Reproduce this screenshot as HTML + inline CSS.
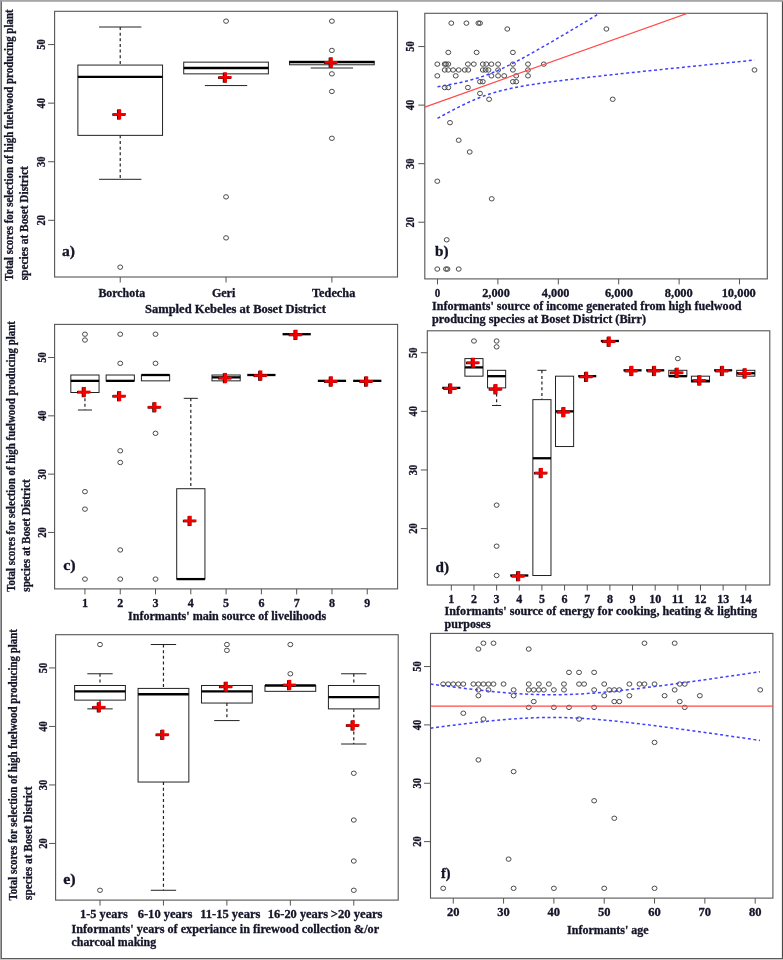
<!DOCTYPE html>
<html><head><meta charset="utf-8"><title>Figure</title>
<style>html,body{margin:0;padding:0;background:#fff;}body{width:783px;height:960px;overflow:hidden;}svg{display:block;filter:blur(0.3px);}
text{font-family:"Liberation Serif",serif;font-weight:bold;stroke:#141428;stroke-width:0.3px;}</style></head>
<body>
<svg width="783" height="960" viewBox="0 0 783 960" font-family="Liberation Serif, serif" font-weight="bold" fill="#141428">
<rect x="0" y="0" width="783" height="960" fill="#fff"/>
<g>
<rect x="54.60" y="11.30" width="342.90" height="265.70" fill="none" stroke="#555" stroke-width="1.1"/>
<line x1="48.10" y1="220.30" x2="54.60" y2="220.30" stroke="#555" stroke-width="1.0" />
<text transform="translate(44.80,220.30) rotate(-90)" x="0" y="0" font-size="12" text-anchor="middle" textLength="10.50" lengthAdjust="spacingAndGlyphs">20</text>
<line x1="48.10" y1="161.72" x2="54.60" y2="161.72" stroke="#555" stroke-width="1.0" />
<text transform="translate(44.80,161.72) rotate(-90)" x="0" y="0" font-size="12" text-anchor="middle" textLength="10.50" lengthAdjust="spacingAndGlyphs">30</text>
<line x1="48.10" y1="103.15" x2="54.60" y2="103.15" stroke="#555" stroke-width="1.0" />
<text transform="translate(44.80,103.15) rotate(-90)" x="0" y="0" font-size="12" text-anchor="middle" textLength="10.50" lengthAdjust="spacingAndGlyphs">40</text>
<line x1="48.10" y1="44.57" x2="54.60" y2="44.57" stroke="#555" stroke-width="1.0" />
<text transform="translate(44.80,44.57) rotate(-90)" x="0" y="0" font-size="12" text-anchor="middle" textLength="10.50" lengthAdjust="spacingAndGlyphs">50</text>
<line x1="120.22" y1="277.00" x2="120.22" y2="282.50" stroke="#555" stroke-width="1.0" />
<line x1="226.05" y1="277.00" x2="226.05" y2="282.50" stroke="#555" stroke-width="1.0" />
<line x1="331.88" y1="277.00" x2="331.88" y2="282.50" stroke="#555" stroke-width="1.0" />
<line x1="120.22" y1="27.00" x2="120.22" y2="65.07" stroke="#222" stroke-width="1.2" stroke-dasharray="3 2.65"/>
<line x1="99.05" y1="27.00" x2="141.38" y2="27.00" stroke="#222" stroke-width="1.0" />
<line x1="120.22" y1="135.36" x2="120.22" y2="179.30" stroke="#222" stroke-width="1.2" stroke-dasharray="3 2.65"/>
<line x1="99.05" y1="179.30" x2="141.38" y2="179.30" stroke="#222" stroke-width="1.0" />
<rect x="77.88" y="65.07" width="84.67" height="70.29" fill="white" stroke="#222" stroke-width="1.0"/>
<line x1="77.88" y1="76.79" x2="162.55" y2="76.79" stroke="#000" stroke-width="2.3" />
<ellipse cx="120.22" cy="267.16" rx="2.45" ry="2.2" fill="none" stroke="#4a4a4a" stroke-width="1.0"/>
<g transform="translate(-0.7,0.3)" fill="#2a0000"><rect x="112.97" y="113.03" width="12.9" height="2.5"/><rect x="117.67" y="109.28" width="3.5" height="10.0"/></g>
<g fill="#f20000"><rect x="112.97" y="113.03" width="12.9" height="2.5"/><rect x="117.67" y="109.28" width="3.5" height="10.0"/></g>
<line x1="226.05" y1="73.86" x2="226.05" y2="85.57" stroke="#222" stroke-width="1.2" stroke-dasharray="3 2.65"/>
<line x1="204.88" y1="85.57" x2="247.22" y2="85.57" stroke="#222" stroke-width="1.0" />
<rect x="183.72" y="62.14" width="84.67" height="11.72" fill="white" stroke="#222" stroke-width="1.0"/>
<line x1="183.72" y1="68.00" x2="268.38" y2="68.00" stroke="#000" stroke-width="2.3" />
<ellipse cx="226.05" cy="21.14" rx="2.45" ry="2.2" fill="none" stroke="#4a4a4a" stroke-width="1.0"/>
<ellipse cx="226.05" cy="196.87" rx="2.45" ry="2.2" fill="none" stroke="#4a4a4a" stroke-width="1.0"/>
<ellipse cx="226.05" cy="237.87" rx="2.45" ry="2.2" fill="none" stroke="#4a4a4a" stroke-width="1.0"/>
<g transform="translate(-0.7,0.3)" fill="#2a0000"><rect x="218.80" y="76.12" width="12.9" height="2.5"/><rect x="223.50" y="72.37" width="3.5" height="10.0"/></g>
<g fill="#f20000"><rect x="218.80" y="76.12" width="12.9" height="2.5"/><rect x="223.50" y="72.37" width="3.5" height="10.0"/></g>
<line x1="331.88" y1="64.78" x2="331.88" y2="68.00" stroke="#222" stroke-width="1.2" stroke-dasharray="3 2.65"/>
<line x1="310.72" y1="68.00" x2="353.05" y2="68.00" stroke="#222" stroke-width="1.0" />
<rect x="289.55" y="61.27" width="84.67" height="3.51" fill="white" stroke="#222" stroke-width="1.0"/>
<line x1="289.55" y1="62.14" x2="374.22" y2="62.14" stroke="#000" stroke-width="2.3" />
<ellipse cx="331.88" cy="21.14" rx="2.45" ry="2.2" fill="none" stroke="#4a4a4a" stroke-width="1.0"/>
<ellipse cx="331.88" cy="50.43" rx="2.45" ry="2.2" fill="none" stroke="#4a4a4a" stroke-width="1.0"/>
<ellipse cx="331.88" cy="73.86" rx="2.45" ry="2.2" fill="none" stroke="#4a4a4a" stroke-width="1.0"/>
<ellipse cx="331.88" cy="91.43" rx="2.45" ry="2.2" fill="none" stroke="#4a4a4a" stroke-width="1.0"/>
<ellipse cx="331.88" cy="138.29" rx="2.45" ry="2.2" fill="none" stroke="#4a4a4a" stroke-width="1.0"/>
<g transform="translate(-0.7,0.3)" fill="#2a0000"><rect x="324.63" y="61.07" width="12.9" height="2.5"/><rect x="329.33" y="57.32" width="3.5" height="10.0"/></g>
<g fill="#f20000"><rect x="324.63" y="61.07" width="12.9" height="2.5"/><rect x="329.33" y="57.32" width="3.5" height="10.0"/></g>
<text x="98.40" y="297.20" font-size="12" text-anchor="start" textLength="46.70" lengthAdjust="spacingAndGlyphs">Borchota</text>
<text x="211.90" y="297.20" font-size="12" text-anchor="start" textLength="23.40" lengthAdjust="spacingAndGlyphs">Geri</text>
<text x="312.00" y="297.20" font-size="12" text-anchor="start" textLength="43.30" lengthAdjust="spacingAndGlyphs">Tedecha</text>
<text x="145.00" y="313.00" font-size="12" text-anchor="start" textLength="180.80" lengthAdjust="spacingAndGlyphs">Sampled Kebeles at Boset District</text>
<text transform="translate(13.30,280.80) rotate(-90)" x="0" y="0" font-size="12" text-anchor="start" textLength="271.40" lengthAdjust="spacingAndGlyphs">Total scores for selection of high fuelwood producing plant</text>
<text transform="translate(27.90,280.30) rotate(-90)" x="0" y="0" font-size="12" text-anchor="start" textLength="114.10" lengthAdjust="spacingAndGlyphs">species at Boset District</text>
<text x="62.00" y="255.60" font-size="14" text-anchor="start" textLength="13.00" lengthAdjust="spacingAndGlyphs">a)</text>
</g>
<g>
<rect x="424.80" y="13.30" width="342.50" height="265.60" fill="none" stroke="#555" stroke-width="1.1"/>
<line x1="418.30" y1="222.22" x2="424.80" y2="222.22" stroke="#555" stroke-width="1.0" />
<text transform="translate(414.00,222.22) rotate(-90)" x="0" y="0" font-size="12" text-anchor="middle" textLength="10.50" lengthAdjust="spacingAndGlyphs">20</text>
<line x1="418.30" y1="163.67" x2="424.80" y2="163.67" stroke="#555" stroke-width="1.0" />
<text transform="translate(414.00,163.67) rotate(-90)" x="0" y="0" font-size="12" text-anchor="middle" textLength="10.50" lengthAdjust="spacingAndGlyphs">30</text>
<line x1="418.30" y1="105.11" x2="424.80" y2="105.11" stroke="#555" stroke-width="1.0" />
<text transform="translate(414.00,105.11) rotate(-90)" x="0" y="0" font-size="12" text-anchor="middle" textLength="10.50" lengthAdjust="spacingAndGlyphs">40</text>
<line x1="418.30" y1="46.56" x2="424.80" y2="46.56" stroke="#555" stroke-width="1.0" />
<text transform="translate(414.00,46.56) rotate(-90)" x="0" y="0" font-size="12" text-anchor="middle" textLength="10.50" lengthAdjust="spacingAndGlyphs">50</text>
<line x1="437.49" y1="278.90" x2="437.49" y2="284.40" stroke="#555" stroke-width="1.0" />
<line x1="497.89" y1="278.90" x2="497.89" y2="284.40" stroke="#555" stroke-width="1.0" />
<line x1="558.30" y1="278.90" x2="558.30" y2="284.40" stroke="#555" stroke-width="1.0" />
<line x1="618.70" y1="278.90" x2="618.70" y2="284.40" stroke="#555" stroke-width="1.0" />
<line x1="679.11" y1="278.90" x2="679.11" y2="284.40" stroke="#555" stroke-width="1.0" />
<line x1="739.51" y1="278.90" x2="739.51" y2="284.40" stroke="#555" stroke-width="1.0" />
<text x="437.60" y="296.90" font-size="12" text-anchor="middle" textLength="5.50" lengthAdjust="spacingAndGlyphs">0</text>
<text x="496.00" y="296.90" font-size="12" text-anchor="middle" textLength="27.60" lengthAdjust="spacingAndGlyphs">2,000</text>
<text x="555.60" y="296.90" font-size="12" text-anchor="middle" textLength="27.60" lengthAdjust="spacingAndGlyphs">4,000</text>
<text x="618.90" y="296.90" font-size="12" text-anchor="middle" textLength="28.00" lengthAdjust="spacingAndGlyphs">6,000</text>
<text x="678.80" y="296.90" font-size="12" text-anchor="middle" textLength="28.00" lengthAdjust="spacingAndGlyphs">8,000</text>
<text x="738.75" y="296.90" font-size="12" text-anchor="middle" textLength="34.20" lengthAdjust="spacingAndGlyphs">10,000</text>
<text x="432.00" y="310.40" font-size="12" text-anchor="start" textLength="309.40" lengthAdjust="spacingAndGlyphs">Informants' source of income generated from high fuelwood</text>
<text x="432.00" y="323.30" font-size="12" text-anchor="start" textLength="214.00" lengthAdjust="spacingAndGlyphs">producing species at Boset District (Birr)</text>
<text x="435.00" y="256.00" font-size="14" text-anchor="start" textLength="13.50" lengthAdjust="spacingAndGlyphs">b)</text>
<ellipse cx="451.30" cy="23.14" rx="2.45" ry="2.2" fill="none" stroke="#4a4a4a" stroke-width="1.0"/>
<ellipse cx="466.40" cy="23.14" rx="2.45" ry="2.2" fill="none" stroke="#4a4a4a" stroke-width="1.0"/>
<ellipse cx="478.40" cy="23.14" rx="2.45" ry="2.2" fill="none" stroke="#4a4a4a" stroke-width="1.0"/>
<ellipse cx="480.00" cy="23.14" rx="2.45" ry="2.2" fill="none" stroke="#4a4a4a" stroke-width="1.0"/>
<ellipse cx="507.30" cy="28.99" rx="2.45" ry="2.2" fill="none" stroke="#4a4a4a" stroke-width="1.0"/>
<ellipse cx="606.40" cy="28.99" rx="2.45" ry="2.2" fill="none" stroke="#4a4a4a" stroke-width="1.0"/>
<ellipse cx="448.30" cy="52.41" rx="2.45" ry="2.2" fill="none" stroke="#4a4a4a" stroke-width="1.0"/>
<ellipse cx="476.60" cy="52.41" rx="2.45" ry="2.2" fill="none" stroke="#4a4a4a" stroke-width="1.0"/>
<ellipse cx="512.90" cy="52.41" rx="2.45" ry="2.2" fill="none" stroke="#4a4a4a" stroke-width="1.0"/>
<ellipse cx="437.30" cy="64.12" rx="2.45" ry="2.2" fill="none" stroke="#4a4a4a" stroke-width="1.0"/>
<ellipse cx="444.70" cy="64.12" rx="2.45" ry="2.2" fill="none" stroke="#4a4a4a" stroke-width="1.0"/>
<ellipse cx="446.00" cy="64.12" rx="2.45" ry="2.2" fill="none" stroke="#4a4a4a" stroke-width="1.0"/>
<ellipse cx="448.30" cy="64.12" rx="2.45" ry="2.2" fill="none" stroke="#4a4a4a" stroke-width="1.0"/>
<ellipse cx="467.90" cy="64.12" rx="2.45" ry="2.2" fill="none" stroke="#4a4a4a" stroke-width="1.0"/>
<ellipse cx="473.80" cy="64.12" rx="2.45" ry="2.2" fill="none" stroke="#4a4a4a" stroke-width="1.0"/>
<ellipse cx="482.80" cy="64.12" rx="2.45" ry="2.2" fill="none" stroke="#4a4a4a" stroke-width="1.0"/>
<ellipse cx="486.30" cy="64.12" rx="2.45" ry="2.2" fill="none" stroke="#4a4a4a" stroke-width="1.0"/>
<ellipse cx="491.40" cy="64.12" rx="2.45" ry="2.2" fill="none" stroke="#4a4a4a" stroke-width="1.0"/>
<ellipse cx="498.10" cy="64.12" rx="2.45" ry="2.2" fill="none" stroke="#4a4a4a" stroke-width="1.0"/>
<ellipse cx="512.90" cy="64.12" rx="2.45" ry="2.2" fill="none" stroke="#4a4a4a" stroke-width="1.0"/>
<ellipse cx="528.00" cy="64.12" rx="2.45" ry="2.2" fill="none" stroke="#4a4a4a" stroke-width="1.0"/>
<ellipse cx="543.80" cy="64.12" rx="2.45" ry="2.2" fill="none" stroke="#4a4a4a" stroke-width="1.0"/>
<ellipse cx="444.70" cy="69.98" rx="2.45" ry="2.2" fill="none" stroke="#4a4a4a" stroke-width="1.0"/>
<ellipse cx="448.30" cy="69.98" rx="2.45" ry="2.2" fill="none" stroke="#4a4a4a" stroke-width="1.0"/>
<ellipse cx="453.10" cy="69.98" rx="2.45" ry="2.2" fill="none" stroke="#4a4a4a" stroke-width="1.0"/>
<ellipse cx="458.70" cy="69.98" rx="2.45" ry="2.2" fill="none" stroke="#4a4a4a" stroke-width="1.0"/>
<ellipse cx="464.70" cy="69.98" rx="2.45" ry="2.2" fill="none" stroke="#4a4a4a" stroke-width="1.0"/>
<ellipse cx="468.30" cy="69.98" rx="2.45" ry="2.2" fill="none" stroke="#4a4a4a" stroke-width="1.0"/>
<ellipse cx="482.80" cy="69.98" rx="2.45" ry="2.2" fill="none" stroke="#4a4a4a" stroke-width="1.0"/>
<ellipse cx="485.60" cy="69.98" rx="2.45" ry="2.2" fill="none" stroke="#4a4a4a" stroke-width="1.0"/>
<ellipse cx="488.50" cy="69.98" rx="2.45" ry="2.2" fill="none" stroke="#4a4a4a" stroke-width="1.0"/>
<ellipse cx="498.10" cy="69.98" rx="2.45" ry="2.2" fill="none" stroke="#4a4a4a" stroke-width="1.0"/>
<ellipse cx="512.90" cy="69.98" rx="2.45" ry="2.2" fill="none" stroke="#4a4a4a" stroke-width="1.0"/>
<ellipse cx="528.00" cy="69.98" rx="2.45" ry="2.2" fill="none" stroke="#4a4a4a" stroke-width="1.0"/>
<ellipse cx="754.50" cy="69.98" rx="2.45" ry="2.2" fill="none" stroke="#4a4a4a" stroke-width="1.0"/>
<ellipse cx="437.30" cy="75.84" rx="2.45" ry="2.2" fill="none" stroke="#4a4a4a" stroke-width="1.0"/>
<ellipse cx="455.70" cy="75.84" rx="2.45" ry="2.2" fill="none" stroke="#4a4a4a" stroke-width="1.0"/>
<ellipse cx="491.40" cy="75.84" rx="2.45" ry="2.2" fill="none" stroke="#4a4a4a" stroke-width="1.0"/>
<ellipse cx="498.10" cy="75.84" rx="2.45" ry="2.2" fill="none" stroke="#4a4a4a" stroke-width="1.0"/>
<ellipse cx="504.20" cy="75.84" rx="2.45" ry="2.2" fill="none" stroke="#4a4a4a" stroke-width="1.0"/>
<ellipse cx="516.20" cy="75.84" rx="2.45" ry="2.2" fill="none" stroke="#4a4a4a" stroke-width="1.0"/>
<ellipse cx="528.00" cy="75.84" rx="2.45" ry="2.2" fill="none" stroke="#4a4a4a" stroke-width="1.0"/>
<ellipse cx="480.00" cy="81.69" rx="2.45" ry="2.2" fill="none" stroke="#4a4a4a" stroke-width="1.0"/>
<ellipse cx="482.80" cy="81.69" rx="2.45" ry="2.2" fill="none" stroke="#4a4a4a" stroke-width="1.0"/>
<ellipse cx="512.90" cy="81.69" rx="2.45" ry="2.2" fill="none" stroke="#4a4a4a" stroke-width="1.0"/>
<ellipse cx="516.20" cy="81.69" rx="2.45" ry="2.2" fill="none" stroke="#4a4a4a" stroke-width="1.0"/>
<ellipse cx="444.70" cy="87.55" rx="2.45" ry="2.2" fill="none" stroke="#4a4a4a" stroke-width="1.0"/>
<ellipse cx="448.30" cy="87.55" rx="2.45" ry="2.2" fill="none" stroke="#4a4a4a" stroke-width="1.0"/>
<ellipse cx="467.90" cy="87.55" rx="2.45" ry="2.2" fill="none" stroke="#4a4a4a" stroke-width="1.0"/>
<ellipse cx="480.00" cy="93.40" rx="2.45" ry="2.2" fill="none" stroke="#4a4a4a" stroke-width="1.0"/>
<ellipse cx="489.10" cy="99.26" rx="2.45" ry="2.2" fill="none" stroke="#4a4a4a" stroke-width="1.0"/>
<ellipse cx="612.70" cy="99.26" rx="2.45" ry="2.2" fill="none" stroke="#4a4a4a" stroke-width="1.0"/>
<ellipse cx="450.00" cy="122.68" rx="2.45" ry="2.2" fill="none" stroke="#4a4a4a" stroke-width="1.0"/>
<ellipse cx="458.70" cy="140.24" rx="2.45" ry="2.2" fill="none" stroke="#4a4a4a" stroke-width="1.0"/>
<ellipse cx="469.70" cy="151.96" rx="2.45" ry="2.2" fill="none" stroke="#4a4a4a" stroke-width="1.0"/>
<ellipse cx="437.30" cy="181.23" rx="2.45" ry="2.2" fill="none" stroke="#4a4a4a" stroke-width="1.0"/>
<ellipse cx="491.70" cy="198.80" rx="2.45" ry="2.2" fill="none" stroke="#4a4a4a" stroke-width="1.0"/>
<ellipse cx="446.70" cy="239.79" rx="2.45" ry="2.2" fill="none" stroke="#4a4a4a" stroke-width="1.0"/>
<ellipse cx="437.30" cy="269.06" rx="2.45" ry="2.2" fill="none" stroke="#4a4a4a" stroke-width="1.0"/>
<ellipse cx="446.00" cy="269.06" rx="2.45" ry="2.2" fill="none" stroke="#4a4a4a" stroke-width="1.0"/>
<ellipse cx="447.50" cy="269.06" rx="2.45" ry="2.2" fill="none" stroke="#4a4a4a" stroke-width="1.0"/>
<ellipse cx="458.70" cy="269.06" rx="2.45" ry="2.2" fill="none" stroke="#4a4a4a" stroke-width="1.0"/>
<clipPath id="cb"><rect x="424.8" y="13.3" width="342.5" height="265.6"/></clipPath>
<g clip-path="url(#cb)">
<line x1="424.80" y1="107.07" x2="767.30" y2="-15.20" stroke="#ff4a4a" stroke-width="1.2" />
<path d="M437.50,86.66 L442.78,85.81 L448.07,84.91 L453.35,83.93 L458.63,82.87 L463.92,81.71 L469.20,80.41 L474.48,78.97 L479.77,77.36 L485.05,75.56 L490.33,73.58 L495.62,71.42 L500.90,69.08 L506.18,66.60 L511.47,64.00 L516.75,61.28 L522.03,58.48 L527.32,55.61 L532.60,52.69 L537.88,49.71 L543.17,46.70 L548.45,43.65 L553.73,40.58 L559.02,37.49 L564.30,34.38 L569.58,31.25 L574.87,28.11 L580.15,24.95 L585.43,21.79 L590.72,18.62 L596.00,15.44 L601.28,12.25 L606.57,9.06 L611.85,5.87 L617.13,2.66 L622.42,-0.54 L627.70,-3.75 L632.98,-6.96 L638.27,-10.18 L643.55,-13.40 L648.83,-16.62 L654.12,-19.84 L659.40,-23.07 L664.68,-26.29 L669.97,-29.52 L675.25,-32.75 L680.53,-35.98 L685.82,-39.22 L691.10,-42.45 L696.38,-45.69 L701.67,-48.92 L706.95,-52.16 L712.23,-55.40 L717.52,-58.64 L722.80,-61.88 L728.08,-65.12 L733.37,-68.36 L738.65,-71.60 L743.93,-74.85 L749.22,-78.09 L754.50,-81.33" fill="none" stroke="#4040ff" stroke-width="1.5" stroke-dasharray="3 2.6"/>
<path d="M437.50,118.42 L442.78,115.49 L448.07,112.62 L453.35,109.82 L458.63,107.11 L463.92,104.51 L469.20,102.03 L474.48,99.70 L479.77,97.54 L485.05,95.56 L490.33,93.77 L495.62,92.16 L500.90,90.72 L506.18,89.43 L511.47,88.27 L516.75,87.21 L522.03,86.23 L527.32,85.33 L532.60,84.49 L537.88,83.69 L543.17,82.93 L548.45,82.20 L553.73,81.50 L559.02,80.82 L564.30,80.16 L569.58,79.52 L574.87,78.89 L580.15,78.27 L585.43,77.66 L590.72,77.06 L596.00,76.47 L601.28,75.88 L606.57,75.30 L611.85,74.72 L617.13,74.15 L622.42,73.59 L627.70,73.02 L632.98,72.46 L638.27,71.91 L643.55,71.35 L648.83,70.80 L654.12,70.25 L659.40,69.70 L664.68,69.16 L669.97,68.61 L675.25,68.07 L680.53,67.53 L685.82,66.99 L691.10,66.45 L696.38,65.92 L701.67,65.38 L706.95,64.85 L712.23,64.31 L717.52,63.78 L722.80,63.25 L728.08,62.72 L733.37,62.19 L738.65,61.66 L743.93,61.13 L749.22,60.60 L754.50,60.07" fill="none" stroke="#4040ff" stroke-width="1.5" stroke-dasharray="3 2.6"/>
</g>
</g>
<g>
<rect x="54.60" y="324.40" width="343.00" height="264.50" fill="none" stroke="#555" stroke-width="1.1"/>
<line x1="48.10" y1="532.45" x2="54.60" y2="532.45" stroke="#555" stroke-width="1.0" />
<text transform="translate(45.50,532.45) rotate(-90)" x="0" y="0" font-size="12" text-anchor="middle" textLength="10.50" lengthAdjust="spacingAndGlyphs">20</text>
<line x1="48.10" y1="474.14" x2="54.60" y2="474.14" stroke="#555" stroke-width="1.0" />
<text transform="translate(45.50,474.14) rotate(-90)" x="0" y="0" font-size="12" text-anchor="middle" textLength="10.50" lengthAdjust="spacingAndGlyphs">30</text>
<line x1="48.10" y1="415.83" x2="54.60" y2="415.83" stroke="#555" stroke-width="1.0" />
<text transform="translate(45.50,415.83) rotate(-90)" x="0" y="0" font-size="12" text-anchor="middle" textLength="10.50" lengthAdjust="spacingAndGlyphs">40</text>
<line x1="48.10" y1="357.52" x2="54.60" y2="357.52" stroke="#555" stroke-width="1.0" />
<text transform="translate(45.50,357.52) rotate(-90)" x="0" y="0" font-size="12" text-anchor="middle" textLength="10.50" lengthAdjust="spacingAndGlyphs">50</text>
<line x1="84.95" y1="588.90" x2="84.95" y2="594.40" stroke="#555" stroke-width="1.0" />
<line x1="120.24" y1="588.90" x2="120.24" y2="594.40" stroke="#555" stroke-width="1.0" />
<line x1="155.52" y1="588.90" x2="155.52" y2="594.40" stroke="#555" stroke-width="1.0" />
<line x1="190.81" y1="588.90" x2="190.81" y2="594.40" stroke="#555" stroke-width="1.0" />
<line x1="226.10" y1="588.90" x2="226.10" y2="594.40" stroke="#555" stroke-width="1.0" />
<line x1="261.39" y1="588.90" x2="261.39" y2="594.40" stroke="#555" stroke-width="1.0" />
<line x1="296.68" y1="588.90" x2="296.68" y2="594.40" stroke="#555" stroke-width="1.0" />
<line x1="331.96" y1="588.90" x2="331.96" y2="594.40" stroke="#555" stroke-width="1.0" />
<line x1="367.25" y1="588.90" x2="367.25" y2="594.40" stroke="#555" stroke-width="1.0" />
<line x1="84.95" y1="392.51" x2="84.95" y2="410.00" stroke="#222" stroke-width="1.2" stroke-dasharray="3 2.65"/>
<line x1="77.89" y1="410.00" x2="92.01" y2="410.00" stroke="#222" stroke-width="1.0" />
<rect x="70.83" y="375.01" width="28.23" height="17.49" fill="white" stroke="#222" stroke-width="1.0"/>
<line x1="70.83" y1="380.85" x2="99.06" y2="380.85" stroke="#000" stroke-width="2.3" />
<ellipse cx="84.95" cy="334.20" rx="2.45" ry="2.2" fill="none" stroke="#4a4a4a" stroke-width="1.0"/>
<ellipse cx="84.95" cy="340.03" rx="2.45" ry="2.2" fill="none" stroke="#4a4a4a" stroke-width="1.0"/>
<ellipse cx="84.95" cy="491.64" rx="2.45" ry="2.2" fill="none" stroke="#4a4a4a" stroke-width="1.0"/>
<ellipse cx="84.95" cy="509.13" rx="2.45" ry="2.2" fill="none" stroke="#4a4a4a" stroke-width="1.0"/>
<ellipse cx="84.95" cy="579.10" rx="2.45" ry="2.2" fill="none" stroke="#4a4a4a" stroke-width="1.0"/>
<g transform="translate(-0.7,0.3)" fill="#2a0000"><rect x="77.70" y="390.67" width="12.9" height="2.5"/><rect x="82.40" y="386.92" width="3.5" height="10.0"/></g>
<g fill="#f20000"><rect x="77.70" y="390.67" width="12.9" height="2.5"/><rect x="82.40" y="386.92" width="3.5" height="10.0"/></g>
<rect x="106.12" y="375.01" width="28.23" height="5.83" fill="white" stroke="#222" stroke-width="1.0"/>
<line x1="106.12" y1="380.85" x2="134.35" y2="380.85" stroke="#000" stroke-width="2.3" />
<ellipse cx="120.24" cy="334.20" rx="2.45" ry="2.2" fill="none" stroke="#4a4a4a" stroke-width="1.0"/>
<ellipse cx="120.24" cy="363.35" rx="2.45" ry="2.2" fill="none" stroke="#4a4a4a" stroke-width="1.0"/>
<ellipse cx="120.24" cy="450.82" rx="2.45" ry="2.2" fill="none" stroke="#4a4a4a" stroke-width="1.0"/>
<ellipse cx="120.24" cy="462.48" rx="2.45" ry="2.2" fill="none" stroke="#4a4a4a" stroke-width="1.0"/>
<ellipse cx="120.24" cy="549.95" rx="2.45" ry="2.2" fill="none" stroke="#4a4a4a" stroke-width="1.0"/>
<ellipse cx="120.24" cy="579.10" rx="2.45" ry="2.2" fill="none" stroke="#4a4a4a" stroke-width="1.0"/>
<g transform="translate(-0.7,0.3)" fill="#2a0000"><rect x="112.99" y="394.76" width="12.9" height="2.5"/><rect x="117.69" y="391.01" width="3.5" height="10.0"/></g>
<g fill="#f20000"><rect x="112.99" y="394.76" width="12.9" height="2.5"/><rect x="117.69" y="391.01" width="3.5" height="10.0"/></g>
<rect x="141.41" y="375.01" width="28.23" height="5.83" fill="white" stroke="#222" stroke-width="1.0"/>
<line x1="141.41" y1="375.01" x2="169.64" y2="375.01" stroke="#000" stroke-width="2.3" />
<ellipse cx="155.52" cy="334.20" rx="2.45" ry="2.2" fill="none" stroke="#4a4a4a" stroke-width="1.0"/>
<ellipse cx="155.52" cy="363.35" rx="2.45" ry="2.2" fill="none" stroke="#4a4a4a" stroke-width="1.0"/>
<ellipse cx="155.52" cy="433.33" rx="2.45" ry="2.2" fill="none" stroke="#4a4a4a" stroke-width="1.0"/>
<ellipse cx="155.52" cy="579.10" rx="2.45" ry="2.2" fill="none" stroke="#4a4a4a" stroke-width="1.0"/>
<g transform="translate(-0.7,0.3)" fill="#2a0000"><rect x="148.27" y="405.84" width="12.9" height="2.5"/><rect x="152.97" y="402.09" width="3.5" height="10.0"/></g>
<g fill="#f20000"><rect x="148.27" y="405.84" width="12.9" height="2.5"/><rect x="152.97" y="402.09" width="3.5" height="10.0"/></g>
<line x1="190.81" y1="398.34" x2="190.81" y2="488.72" stroke="#222" stroke-width="1.2" stroke-dasharray="3 2.65"/>
<line x1="183.75" y1="398.34" x2="197.87" y2="398.34" stroke="#222" stroke-width="1.0" />
<rect x="176.70" y="488.72" width="28.23" height="90.38" fill="white" stroke="#222" stroke-width="1.0"/>
<line x1="176.70" y1="579.10" x2="204.93" y2="579.10" stroke="#000" stroke-width="2.3" />
<g transform="translate(-0.7,0.3)" fill="#2a0000"><rect x="183.56" y="519.54" width="12.9" height="2.5"/><rect x="188.26" y="515.79" width="3.5" height="10.0"/></g>
<g fill="#f20000"><rect x="183.56" y="519.54" width="12.9" height="2.5"/><rect x="188.26" y="515.79" width="3.5" height="10.0"/></g>
<rect x="211.98" y="375.01" width="28.23" height="5.83" fill="white" stroke="#222" stroke-width="1.0"/>
<line x1="211.98" y1="377.35" x2="240.22" y2="377.35" stroke="#000" stroke-width="2.3" />
<g transform="translate(-0.7,0.3)" fill="#2a0000"><rect x="218.85" y="376.68" width="12.9" height="2.5"/><rect x="223.55" y="372.93" width="3.5" height="10.0"/></g>
<g fill="#f20000"><rect x="218.85" y="376.68" width="12.9" height="2.5"/><rect x="223.55" y="372.93" width="3.5" height="10.0"/></g>
<line x1="247.27" y1="375.01" x2="275.50" y2="375.01" stroke="#000" stroke-width="2.3" />
<g transform="translate(-0.7,0.3)" fill="#2a0000"><rect x="254.14" y="374.26" width="12.9" height="2.5"/><rect x="258.84" y="370.51" width="3.5" height="10.0"/></g>
<g fill="#f20000"><rect x="254.14" y="374.26" width="12.9" height="2.5"/><rect x="258.84" y="370.51" width="3.5" height="10.0"/></g>
<line x1="282.56" y1="334.20" x2="310.79" y2="334.20" stroke="#000" stroke-width="2.3" />
<g transform="translate(-0.7,0.3)" fill="#2a0000"><rect x="289.43" y="333.45" width="12.9" height="2.5"/><rect x="294.13" y="329.70" width="3.5" height="10.0"/></g>
<g fill="#f20000"><rect x="289.43" y="333.45" width="12.9" height="2.5"/><rect x="294.13" y="329.70" width="3.5" height="10.0"/></g>
<line x1="317.85" y1="380.85" x2="346.08" y2="380.85" stroke="#000" stroke-width="2.3" />
<g transform="translate(-0.7,0.3)" fill="#2a0000"><rect x="324.71" y="380.10" width="12.9" height="2.5"/><rect x="329.41" y="376.35" width="3.5" height="10.0"/></g>
<g fill="#f20000"><rect x="324.71" y="380.10" width="12.9" height="2.5"/><rect x="329.41" y="376.35" width="3.5" height="10.0"/></g>
<line x1="353.14" y1="380.85" x2="381.37" y2="380.85" stroke="#000" stroke-width="2.3" />
<g transform="translate(-0.7,0.3)" fill="#2a0000"><rect x="360.00" y="380.10" width="12.9" height="2.5"/><rect x="364.70" y="376.35" width="3.5" height="10.0"/></g>
<g fill="#f20000"><rect x="360.00" y="380.10" width="12.9" height="2.5"/><rect x="364.70" y="376.35" width="3.5" height="10.0"/></g>
<text x="84.95" y="606.90" font-size="12" text-anchor="middle" textLength="6.00" lengthAdjust="spacingAndGlyphs">1</text>
<text x="120.24" y="606.90" font-size="12" text-anchor="middle" textLength="6.00" lengthAdjust="spacingAndGlyphs">2</text>
<text x="155.52" y="606.90" font-size="12" text-anchor="middle" textLength="6.00" lengthAdjust="spacingAndGlyphs">3</text>
<text x="190.81" y="606.90" font-size="12" text-anchor="middle" textLength="6.00" lengthAdjust="spacingAndGlyphs">4</text>
<text x="226.10" y="606.90" font-size="12" text-anchor="middle" textLength="6.00" lengthAdjust="spacingAndGlyphs">5</text>
<text x="261.39" y="606.90" font-size="12" text-anchor="middle" textLength="6.00" lengthAdjust="spacingAndGlyphs">6</text>
<text x="296.68" y="606.90" font-size="12" text-anchor="middle" textLength="6.00" lengthAdjust="spacingAndGlyphs">7</text>
<text x="331.96" y="606.90" font-size="12" text-anchor="middle" textLength="6.00" lengthAdjust="spacingAndGlyphs">8</text>
<text x="367.25" y="606.90" font-size="12" text-anchor="middle" textLength="6.00" lengthAdjust="spacingAndGlyphs">9</text>
<text x="128.00" y="619.80" font-size="12" text-anchor="start" textLength="198.20" lengthAdjust="spacingAndGlyphs">Informants' main source of livelihoods</text>
<text transform="translate(15.00,591.70) rotate(-90)" x="0" y="0" font-size="12" text-anchor="start" textLength="270.50" lengthAdjust="spacingAndGlyphs">Total scores for selection of high fuelwood producing plant</text>
<text transform="translate(29.70,591.70) rotate(-90)" x="0" y="0" font-size="12" text-anchor="start" textLength="112.50" lengthAdjust="spacingAndGlyphs">species at Boset District</text>
<text x="63.20" y="570.20" font-size="14" text-anchor="start" textLength="12.50" lengthAdjust="spacingAndGlyphs">c)</text>
</g>
<g>
<rect x="427.30" y="330.80" width="342.50" height="254.20" fill="none" stroke="#555" stroke-width="1.1"/>
<line x1="420.80" y1="528.60" x2="427.30" y2="528.60" stroke="#555" stroke-width="1.0" />
<text transform="translate(417.00,528.60) rotate(-90)" x="0" y="0" font-size="12" text-anchor="middle" textLength="10.50" lengthAdjust="spacingAndGlyphs">20</text>
<line x1="420.80" y1="469.98" x2="427.30" y2="469.98" stroke="#555" stroke-width="1.0" />
<text transform="translate(417.00,469.98) rotate(-90)" x="0" y="0" font-size="12" text-anchor="middle" textLength="10.50" lengthAdjust="spacingAndGlyphs">30</text>
<line x1="420.80" y1="411.35" x2="427.30" y2="411.35" stroke="#555" stroke-width="1.0" />
<text transform="translate(417.00,411.35) rotate(-90)" x="0" y="0" font-size="12" text-anchor="middle" textLength="10.50" lengthAdjust="spacingAndGlyphs">40</text>
<line x1="420.80" y1="352.73" x2="427.30" y2="352.73" stroke="#555" stroke-width="1.0" />
<text transform="translate(417.00,352.73) rotate(-90)" x="0" y="0" font-size="12" text-anchor="middle" textLength="10.50" lengthAdjust="spacingAndGlyphs">50</text>
<line x1="451.31" y1="585.00" x2="451.31" y2="590.50" stroke="#555" stroke-width="1.0" />
<line x1="473.96" y1="585.00" x2="473.96" y2="590.50" stroke="#555" stroke-width="1.0" />
<line x1="496.62" y1="585.00" x2="496.62" y2="590.50" stroke="#555" stroke-width="1.0" />
<line x1="519.27" y1="585.00" x2="519.27" y2="590.50" stroke="#555" stroke-width="1.0" />
<line x1="541.92" y1="585.00" x2="541.92" y2="590.50" stroke="#555" stroke-width="1.0" />
<line x1="564.57" y1="585.00" x2="564.57" y2="590.50" stroke="#555" stroke-width="1.0" />
<line x1="587.22" y1="585.00" x2="587.22" y2="590.50" stroke="#555" stroke-width="1.0" />
<line x1="609.88" y1="585.00" x2="609.88" y2="590.50" stroke="#555" stroke-width="1.0" />
<line x1="632.53" y1="585.00" x2="632.53" y2="590.50" stroke="#555" stroke-width="1.0" />
<line x1="655.18" y1="585.00" x2="655.18" y2="590.50" stroke="#555" stroke-width="1.0" />
<line x1="677.83" y1="585.00" x2="677.83" y2="590.50" stroke="#555" stroke-width="1.0" />
<line x1="700.48" y1="585.00" x2="700.48" y2="590.50" stroke="#555" stroke-width="1.0" />
<line x1="723.14" y1="585.00" x2="723.14" y2="590.50" stroke="#555" stroke-width="1.0" />
<line x1="745.79" y1="585.00" x2="745.79" y2="590.50" stroke="#555" stroke-width="1.0" />
<line x1="442.25" y1="387.90" x2="460.37" y2="387.90" stroke="#000" stroke-width="2.3" />
<g transform="translate(-0.7,0.3)" fill="#2a0000"><rect x="444.06" y="387.15" width="12.9" height="2.5"/><rect x="448.76" y="383.40" width="3.5" height="10.0"/></g>
<g fill="#f20000"><rect x="444.06" y="387.15" width="12.9" height="2.5"/><rect x="448.76" y="383.40" width="3.5" height="10.0"/></g>
<rect x="464.90" y="358.59" width="18.12" height="17.59" fill="white" stroke="#222" stroke-width="1.0"/>
<line x1="464.90" y1="367.38" x2="483.02" y2="367.38" stroke="#000" stroke-width="2.3" />
<ellipse cx="473.96" cy="341.00" rx="2.45" ry="2.2" fill="none" stroke="#4a4a4a" stroke-width="1.0"/>
<g transform="translate(-0.7,0.3)" fill="#2a0000"><rect x="466.71" y="361.44" width="12.9" height="2.5"/><rect x="471.41" y="357.69" width="3.5" height="10.0"/></g>
<g fill="#f20000"><rect x="466.71" y="361.44" width="12.9" height="2.5"/><rect x="471.41" y="357.69" width="3.5" height="10.0"/></g>
<line x1="496.62" y1="387.90" x2="496.62" y2="405.49" stroke="#222" stroke-width="1.2" stroke-dasharray="3 2.65"/>
<line x1="492.09" y1="405.49" x2="501.15" y2="405.49" stroke="#222" stroke-width="1.0" />
<rect x="487.55" y="370.31" width="18.12" height="17.59" fill="white" stroke="#222" stroke-width="1.0"/>
<line x1="487.55" y1="376.18" x2="505.68" y2="376.18" stroke="#000" stroke-width="2.3" />
<ellipse cx="496.62" cy="341.00" rx="2.45" ry="2.2" fill="none" stroke="#4a4a4a" stroke-width="1.0"/>
<ellipse cx="496.62" cy="346.86" rx="2.45" ry="2.2" fill="none" stroke="#4a4a4a" stroke-width="1.0"/>
<ellipse cx="496.62" cy="505.15" rx="2.45" ry="2.2" fill="none" stroke="#4a4a4a" stroke-width="1.0"/>
<ellipse cx="496.62" cy="546.19" rx="2.45" ry="2.2" fill="none" stroke="#4a4a4a" stroke-width="1.0"/>
<ellipse cx="496.62" cy="575.50" rx="2.45" ry="2.2" fill="none" stroke="#4a4a4a" stroke-width="1.0"/>
<g transform="translate(-0.7,0.3)" fill="#2a0000"><rect x="489.37" y="387.82" width="12.9" height="2.5"/><rect x="494.07" y="384.07" width="3.5" height="10.0"/></g>
<g fill="#f20000"><rect x="489.37" y="387.82" width="12.9" height="2.5"/><rect x="494.07" y="384.07" width="3.5" height="10.0"/></g>
<line x1="510.21" y1="575.50" x2="528.33" y2="575.50" stroke="#000" stroke-width="2.3" />
<g transform="translate(-0.7,0.3)" fill="#2a0000"><rect x="512.02" y="574.75" width="12.9" height="2.5"/><rect x="516.72" y="571.00" width="3.5" height="10.0"/></g>
<g fill="#f20000"><rect x="512.02" y="574.75" width="12.9" height="2.5"/><rect x="516.72" y="571.00" width="3.5" height="10.0"/></g>
<line x1="541.92" y1="370.31" x2="541.92" y2="399.63" stroke="#222" stroke-width="1.2" stroke-dasharray="3 2.65"/>
<line x1="537.39" y1="370.31" x2="546.45" y2="370.31" stroke="#222" stroke-width="1.0" />
<rect x="532.86" y="399.63" width="18.12" height="175.88" fill="white" stroke="#222" stroke-width="1.0"/>
<line x1="532.86" y1="458.25" x2="550.98" y2="458.25" stroke="#000" stroke-width="2.3" />
<g transform="translate(-0.7,0.3)" fill="#2a0000"><rect x="534.67" y="471.66" width="12.9" height="2.5"/><rect x="539.37" y="467.91" width="3.5" height="10.0"/></g>
<g fill="#f20000"><rect x="534.67" y="471.66" width="12.9" height="2.5"/><rect x="539.37" y="467.91" width="3.5" height="10.0"/></g>
<rect x="555.51" y="376.18" width="18.12" height="70.35" fill="white" stroke="#222" stroke-width="1.0"/>
<line x1="555.51" y1="411.35" x2="573.63" y2="411.35" stroke="#000" stroke-width="2.3" />
<g transform="translate(-0.7,0.3)" fill="#2a0000"><rect x="557.32" y="410.69" width="12.9" height="2.5"/><rect x="562.02" y="406.94" width="3.5" height="10.0"/></g>
<g fill="#f20000"><rect x="557.32" y="410.69" width="12.9" height="2.5"/><rect x="562.02" y="406.94" width="3.5" height="10.0"/></g>
<line x1="578.16" y1="376.18" x2="596.28" y2="376.18" stroke="#000" stroke-width="2.3" />
<g transform="translate(-0.7,0.3)" fill="#2a0000"><rect x="579.97" y="375.43" width="12.9" height="2.5"/><rect x="584.67" y="371.68" width="3.5" height="10.0"/></g>
<g fill="#f20000"><rect x="579.97" y="375.43" width="12.9" height="2.5"/><rect x="584.67" y="371.68" width="3.5" height="10.0"/></g>
<line x1="600.82" y1="341.00" x2="618.94" y2="341.00" stroke="#000" stroke-width="2.3" />
<g transform="translate(-0.7,0.3)" fill="#2a0000"><rect x="602.63" y="340.25" width="12.9" height="2.5"/><rect x="607.33" y="336.50" width="3.5" height="10.0"/></g>
<g fill="#f20000"><rect x="602.63" y="340.25" width="12.9" height="2.5"/><rect x="607.33" y="336.50" width="3.5" height="10.0"/></g>
<line x1="623.47" y1="370.31" x2="641.59" y2="370.31" stroke="#000" stroke-width="2.3" />
<g transform="translate(-0.7,0.3)" fill="#2a0000"><rect x="625.28" y="369.56" width="12.9" height="2.5"/><rect x="629.98" y="365.81" width="3.5" height="10.0"/></g>
<g fill="#f20000"><rect x="625.28" y="369.56" width="12.9" height="2.5"/><rect x="629.98" y="365.81" width="3.5" height="10.0"/></g>
<line x1="646.12" y1="370.31" x2="664.24" y2="370.31" stroke="#000" stroke-width="2.3" />
<g transform="translate(-0.7,0.3)" fill="#2a0000"><rect x="647.93" y="369.56" width="12.9" height="2.5"/><rect x="652.63" y="365.81" width="3.5" height="10.0"/></g>
<g fill="#f20000"><rect x="647.93" y="369.56" width="12.9" height="2.5"/><rect x="652.63" y="365.81" width="3.5" height="10.0"/></g>
<rect x="668.77" y="370.31" width="18.12" height="5.86" fill="white" stroke="#222" stroke-width="1.0"/>
<line x1="668.77" y1="376.18" x2="686.89" y2="376.18" stroke="#000" stroke-width="2.3" />
<ellipse cx="677.83" cy="358.59" rx="2.45" ry="2.2" fill="none" stroke="#4a4a4a" stroke-width="1.0"/>
<g transform="translate(-0.7,0.3)" fill="#2a0000"><rect x="670.58" y="371.41" width="12.9" height="2.5"/><rect x="675.28" y="367.66" width="3.5" height="10.0"/></g>
<g fill="#f20000"><rect x="670.58" y="371.41" width="12.9" height="2.5"/><rect x="675.28" y="367.66" width="3.5" height="10.0"/></g>
<rect x="691.42" y="376.18" width="18.12" height="5.86" fill="white" stroke="#222" stroke-width="1.0"/>
<line x1="691.42" y1="380.87" x2="709.55" y2="380.87" stroke="#000" stroke-width="2.3" />
<g transform="translate(-0.7,0.3)" fill="#2a0000"><rect x="693.23" y="379.03" width="12.9" height="2.5"/><rect x="697.93" y="375.28" width="3.5" height="10.0"/></g>
<g fill="#f20000"><rect x="693.23" y="379.03" width="12.9" height="2.5"/><rect x="697.93" y="375.28" width="3.5" height="10.0"/></g>
<line x1="714.08" y1="370.31" x2="732.20" y2="370.31" stroke="#000" stroke-width="2.3" />
<g transform="translate(-0.7,0.3)" fill="#2a0000"><rect x="715.89" y="369.56" width="12.9" height="2.5"/><rect x="720.59" y="365.81" width="3.5" height="10.0"/></g>
<g fill="#f20000"><rect x="715.89" y="369.56" width="12.9" height="2.5"/><rect x="720.59" y="365.81" width="3.5" height="10.0"/></g>
<rect x="736.73" y="370.31" width="18.12" height="5.86" fill="white" stroke="#222" stroke-width="1.0"/>
<line x1="736.73" y1="373.24" x2="754.85" y2="373.24" stroke="#000" stroke-width="2.3" />
<g transform="translate(-0.7,0.3)" fill="#2a0000"><rect x="738.54" y="371.99" width="12.9" height="2.5"/><rect x="743.24" y="368.24" width="3.5" height="10.0"/></g>
<g fill="#f20000"><rect x="738.54" y="371.99" width="12.9" height="2.5"/><rect x="743.24" y="368.24" width="3.5" height="10.0"/></g>
<text x="451.31" y="603.00" font-size="12" text-anchor="middle" textLength="6.00" lengthAdjust="spacingAndGlyphs">1</text>
<text x="473.96" y="603.00" font-size="12" text-anchor="middle" textLength="6.00" lengthAdjust="spacingAndGlyphs">2</text>
<text x="496.62" y="603.00" font-size="12" text-anchor="middle" textLength="6.00" lengthAdjust="spacingAndGlyphs">3</text>
<text x="519.27" y="603.00" font-size="12" text-anchor="middle" textLength="6.00" lengthAdjust="spacingAndGlyphs">4</text>
<text x="541.92" y="603.00" font-size="12" text-anchor="middle" textLength="6.00" lengthAdjust="spacingAndGlyphs">5</text>
<text x="564.57" y="603.00" font-size="12" text-anchor="middle" textLength="6.00" lengthAdjust="spacingAndGlyphs">6</text>
<text x="587.22" y="603.00" font-size="12" text-anchor="middle" textLength="6.00" lengthAdjust="spacingAndGlyphs">7</text>
<text x="609.88" y="603.00" font-size="12" text-anchor="middle" textLength="6.00" lengthAdjust="spacingAndGlyphs">8</text>
<text x="632.53" y="603.00" font-size="12" text-anchor="middle" textLength="6.00" lengthAdjust="spacingAndGlyphs">9</text>
<text x="655.18" y="603.00" font-size="12" text-anchor="middle" textLength="12.00" lengthAdjust="spacingAndGlyphs">10</text>
<text x="677.83" y="603.00" font-size="12" text-anchor="middle" textLength="12.00" lengthAdjust="spacingAndGlyphs">11</text>
<text x="700.48" y="603.00" font-size="12" text-anchor="middle" textLength="12.00" lengthAdjust="spacingAndGlyphs">12</text>
<text x="723.14" y="603.00" font-size="12" text-anchor="middle" textLength="12.00" lengthAdjust="spacingAndGlyphs">13</text>
<text x="745.79" y="603.00" font-size="12" text-anchor="middle" textLength="12.00" lengthAdjust="spacingAndGlyphs">14</text>
<text x="444.60" y="614.50" font-size="12" text-anchor="start" textLength="312.40" lengthAdjust="spacingAndGlyphs">Informants' source of energy for cooking, heating &amp; lighting</text>
<text x="444.60" y="627.90" font-size="12" text-anchor="start" textLength="46.00" lengthAdjust="spacingAndGlyphs">purposes</text>
<text x="435.50" y="571.60" font-size="14" text-anchor="start" textLength="13.50" lengthAdjust="spacingAndGlyphs">d)</text>
</g>
<g>
<rect x="55.60" y="634.70" width="342.60" height="265.40" fill="none" stroke="#555" stroke-width="1.1"/>
<line x1="49.10" y1="843.46" x2="55.60" y2="843.46" stroke="#555" stroke-width="1.0" />
<text transform="translate(46.50,843.46) rotate(-90)" x="0" y="0" font-size="12" text-anchor="middle" textLength="10.50" lengthAdjust="spacingAndGlyphs">20</text>
<line x1="49.10" y1="784.95" x2="55.60" y2="784.95" stroke="#555" stroke-width="1.0" />
<text transform="translate(46.50,784.95) rotate(-90)" x="0" y="0" font-size="12" text-anchor="middle" textLength="10.50" lengthAdjust="spacingAndGlyphs">30</text>
<line x1="49.10" y1="726.44" x2="55.60" y2="726.44" stroke="#555" stroke-width="1.0" />
<text transform="translate(46.50,726.44) rotate(-90)" x="0" y="0" font-size="12" text-anchor="middle" textLength="10.50" lengthAdjust="spacingAndGlyphs">40</text>
<line x1="49.10" y1="667.93" x2="55.60" y2="667.93" stroke="#555" stroke-width="1.0" />
<text transform="translate(46.50,667.93) rotate(-90)" x="0" y="0" font-size="12" text-anchor="middle" textLength="10.50" lengthAdjust="spacingAndGlyphs">50</text>
<line x1="100.01" y1="900.10" x2="100.01" y2="905.60" stroke="#555" stroke-width="1.0" />
<line x1="163.46" y1="900.10" x2="163.46" y2="905.60" stroke="#555" stroke-width="1.0" />
<line x1="226.90" y1="900.10" x2="226.90" y2="905.60" stroke="#555" stroke-width="1.0" />
<line x1="290.34" y1="900.10" x2="290.34" y2="905.60" stroke="#555" stroke-width="1.0" />
<line x1="353.79" y1="900.10" x2="353.79" y2="905.60" stroke="#555" stroke-width="1.0" />
<line x1="100.01" y1="673.78" x2="100.01" y2="685.49" stroke="#222" stroke-width="1.2" stroke-dasharray="3 2.65"/>
<line x1="87.32" y1="673.78" x2="112.70" y2="673.78" stroke="#222" stroke-width="1.0" />
<line x1="100.01" y1="700.11" x2="100.01" y2="708.89" stroke="#222" stroke-width="1.2" stroke-dasharray="3 2.65"/>
<line x1="87.32" y1="708.89" x2="112.70" y2="708.89" stroke="#222" stroke-width="1.0" />
<rect x="74.63" y="685.49" width="50.76" height="14.63" fill="white" stroke="#222" stroke-width="1.0"/>
<line x1="74.63" y1="691.34" x2="125.39" y2="691.34" stroke="#000" stroke-width="2.3" />
<ellipse cx="100.01" cy="644.53" rx="2.45" ry="2.2" fill="none" stroke="#4a4a4a" stroke-width="1.0"/>
<ellipse cx="100.01" cy="890.27" rx="2.45" ry="2.2" fill="none" stroke="#4a4a4a" stroke-width="1.0"/>
<g transform="translate(-0.7,0.3)" fill="#2a0000"><rect x="92.76" y="705.89" width="12.9" height="2.5"/><rect x="97.46" y="702.14" width="3.5" height="10.0"/></g>
<g fill="#f20000"><rect x="92.76" y="705.89" width="12.9" height="2.5"/><rect x="97.46" y="702.14" width="3.5" height="10.0"/></g>
<line x1="163.46" y1="644.53" x2="163.46" y2="688.41" stroke="#222" stroke-width="1.2" stroke-dasharray="3 2.65"/>
<line x1="150.77" y1="644.53" x2="176.14" y2="644.53" stroke="#222" stroke-width="1.0" />
<line x1="163.46" y1="782.03" x2="163.46" y2="890.27" stroke="#222" stroke-width="1.2" stroke-dasharray="3 2.65"/>
<line x1="150.77" y1="890.27" x2="176.14" y2="890.27" stroke="#222" stroke-width="1.0" />
<rect x="138.08" y="688.41" width="50.76" height="93.62" fill="white" stroke="#222" stroke-width="1.0"/>
<line x1="138.08" y1="694.26" x2="188.83" y2="694.26" stroke="#000" stroke-width="2.3" />
<g transform="translate(-0.7,0.3)" fill="#2a0000"><rect x="156.21" y="733.38" width="12.9" height="2.5"/><rect x="160.91" y="729.63" width="3.5" height="10.0"/></g>
<g fill="#f20000"><rect x="156.21" y="733.38" width="12.9" height="2.5"/><rect x="160.91" y="729.63" width="3.5" height="10.0"/></g>
<line x1="226.90" y1="703.04" x2="226.90" y2="720.59" stroke="#222" stroke-width="1.2" stroke-dasharray="3 2.65"/>
<line x1="214.21" y1="720.59" x2="239.59" y2="720.59" stroke="#222" stroke-width="1.0" />
<rect x="201.52" y="685.49" width="50.76" height="17.55" fill="white" stroke="#222" stroke-width="1.0"/>
<line x1="201.52" y1="691.34" x2="252.28" y2="691.34" stroke="#000" stroke-width="2.3" />
<ellipse cx="226.90" cy="644.53" rx="2.45" ry="2.2" fill="none" stroke="#4a4a4a" stroke-width="1.0"/>
<ellipse cx="226.90" cy="650.38" rx="2.45" ry="2.2" fill="none" stroke="#4a4a4a" stroke-width="1.0"/>
<g transform="translate(-0.7,0.3)" fill="#2a0000"><rect x="219.65" y="685.41" width="12.9" height="2.5"/><rect x="224.35" y="681.66" width="3.5" height="10.0"/></g>
<g fill="#f20000"><rect x="219.65" y="685.41" width="12.9" height="2.5"/><rect x="224.35" y="681.66" width="3.5" height="10.0"/></g>
<rect x="264.97" y="685.49" width="50.76" height="5.85" fill="white" stroke="#222" stroke-width="1.0"/>
<line x1="264.97" y1="685.49" x2="315.72" y2="685.49" stroke="#000" stroke-width="2.3" />
<ellipse cx="290.34" cy="644.53" rx="2.45" ry="2.2" fill="none" stroke="#4a4a4a" stroke-width="1.0"/>
<ellipse cx="290.34" cy="673.78" rx="2.45" ry="2.2" fill="none" stroke="#4a4a4a" stroke-width="1.0"/>
<g transform="translate(-0.7,0.3)" fill="#2a0000"><rect x="283.09" y="683.65" width="12.9" height="2.5"/><rect x="287.79" y="679.90" width="3.5" height="10.0"/></g>
<g fill="#f20000"><rect x="283.09" y="683.65" width="12.9" height="2.5"/><rect x="287.79" y="679.90" width="3.5" height="10.0"/></g>
<line x1="353.79" y1="673.78" x2="353.79" y2="685.49" stroke="#222" stroke-width="1.2" stroke-dasharray="3 2.65"/>
<line x1="341.10" y1="673.78" x2="366.48" y2="673.78" stroke="#222" stroke-width="1.0" />
<line x1="353.79" y1="708.89" x2="353.79" y2="744.00" stroke="#222" stroke-width="1.2" stroke-dasharray="3 2.65"/>
<line x1="341.10" y1="744.00" x2="366.48" y2="744.00" stroke="#222" stroke-width="1.0" />
<rect x="328.41" y="685.49" width="50.76" height="23.40" fill="white" stroke="#222" stroke-width="1.0"/>
<line x1="328.41" y1="697.19" x2="379.17" y2="697.19" stroke="#000" stroke-width="2.3" />
<ellipse cx="353.79" cy="773.25" rx="2.45" ry="2.2" fill="none" stroke="#4a4a4a" stroke-width="1.0"/>
<ellipse cx="353.79" cy="820.06" rx="2.45" ry="2.2" fill="none" stroke="#4a4a4a" stroke-width="1.0"/>
<ellipse cx="353.79" cy="861.02" rx="2.45" ry="2.2" fill="none" stroke="#4a4a4a" stroke-width="1.0"/>
<ellipse cx="353.79" cy="890.27" rx="2.45" ry="2.2" fill="none" stroke="#4a4a4a" stroke-width="1.0"/>
<g transform="translate(-0.7,0.3)" fill="#2a0000"><rect x="346.54" y="724.02" width="12.9" height="2.5"/><rect x="351.24" y="720.27" width="3.5" height="10.0"/></g>
<g fill="#f20000"><rect x="346.54" y="724.02" width="12.9" height="2.5"/><rect x="351.24" y="720.27" width="3.5" height="10.0"/></g>
<text x="103.90" y="917.50" font-size="12" text-anchor="middle" textLength="47.60" lengthAdjust="spacingAndGlyphs">1-5 years</text>
<text x="165.00" y="917.50" font-size="12" text-anchor="middle" textLength="54.60" lengthAdjust="spacingAndGlyphs">6-10 years</text>
<text x="230.30" y="917.50" font-size="12" text-anchor="middle" textLength="60.10" lengthAdjust="spacingAndGlyphs">11-15 years</text>
<text x="298.00" y="917.50" font-size="12" text-anchor="middle" textLength="60.30" lengthAdjust="spacingAndGlyphs">16-20 years</text>
<text x="356.70" y="917.50" font-size="12" text-anchor="middle" textLength="51.70" lengthAdjust="spacingAndGlyphs">&gt;20 years</text>
<text x="71.50" y="932.90" font-size="12" text-anchor="start" textLength="307.60" lengthAdjust="spacingAndGlyphs">Informants' years of experiance in firewood collection &amp;/or</text>
<text x="71.50" y="946.00" font-size="12" text-anchor="start" textLength="84.60" lengthAdjust="spacingAndGlyphs">charcoal making</text>
<text transform="translate(16.60,900.60) rotate(-90)" x="0" y="0" font-size="12" text-anchor="start" textLength="271.50" lengthAdjust="spacingAndGlyphs">Total scores for selection of high fuelwood producing plant</text>
<text transform="translate(31.90,900.00) rotate(-90)" x="0" y="0" font-size="12" text-anchor="start" textLength="113.60" lengthAdjust="spacingAndGlyphs">species at Boset District</text>
<text x="63.20" y="883.50" font-size="14" text-anchor="start" textLength="12.50" lengthAdjust="spacingAndGlyphs">e)</text>
</g>
<g>
<rect x="430.50" y="633.40" width="342.40" height="264.70" fill="none" stroke="#555" stroke-width="1.1"/>
<line x1="424.00" y1="841.61" x2="430.50" y2="841.61" stroke="#555" stroke-width="1.0" />
<text transform="translate(420.50,841.61) rotate(-90)" x="0" y="0" font-size="12" text-anchor="middle" textLength="10.50" lengthAdjust="spacingAndGlyphs">20</text>
<line x1="424.00" y1="783.26" x2="430.50" y2="783.26" stroke="#555" stroke-width="1.0" />
<text transform="translate(420.50,783.26) rotate(-90)" x="0" y="0" font-size="12" text-anchor="middle" textLength="10.50" lengthAdjust="spacingAndGlyphs">30</text>
<line x1="424.00" y1="724.90" x2="430.50" y2="724.90" stroke="#555" stroke-width="1.0" />
<text transform="translate(420.50,724.90) rotate(-90)" x="0" y="0" font-size="12" text-anchor="middle" textLength="10.50" lengthAdjust="spacingAndGlyphs">40</text>
<line x1="424.00" y1="666.55" x2="430.50" y2="666.55" stroke="#555" stroke-width="1.0" />
<text transform="translate(420.50,666.55) rotate(-90)" x="0" y="0" font-size="12" text-anchor="middle" textLength="10.50" lengthAdjust="spacingAndGlyphs">50</text>
<line x1="453.25" y1="898.10" x2="453.25" y2="903.60" stroke="#555" stroke-width="1.0" />
<line x1="503.57" y1="898.10" x2="503.57" y2="903.60" stroke="#555" stroke-width="1.0" />
<line x1="553.89" y1="898.10" x2="553.89" y2="903.60" stroke="#555" stroke-width="1.0" />
<line x1="604.22" y1="898.10" x2="604.22" y2="903.60" stroke="#555" stroke-width="1.0" />
<line x1="654.54" y1="898.10" x2="654.54" y2="903.60" stroke="#555" stroke-width="1.0" />
<line x1="704.86" y1="898.10" x2="704.86" y2="903.60" stroke="#555" stroke-width="1.0" />
<line x1="755.19" y1="898.10" x2="755.19" y2="903.60" stroke="#555" stroke-width="1.0" />
<text x="453.25" y="916.30" font-size="12" text-anchor="middle" textLength="12.50" lengthAdjust="spacingAndGlyphs">20</text>
<text x="503.57" y="916.30" font-size="12" text-anchor="middle" textLength="12.50" lengthAdjust="spacingAndGlyphs">30</text>
<text x="553.89" y="916.30" font-size="12" text-anchor="middle" textLength="12.50" lengthAdjust="spacingAndGlyphs">40</text>
<text x="604.22" y="916.30" font-size="12" text-anchor="middle" textLength="12.50" lengthAdjust="spacingAndGlyphs">50</text>
<text x="654.54" y="916.30" font-size="12" text-anchor="middle" textLength="12.50" lengthAdjust="spacingAndGlyphs">60</text>
<text x="704.86" y="916.30" font-size="12" text-anchor="middle" textLength="12.50" lengthAdjust="spacingAndGlyphs">70</text>
<text x="755.19" y="916.30" font-size="12" text-anchor="middle" textLength="12.50" lengthAdjust="spacingAndGlyphs">80</text>
<text x="567.10" y="934.00" font-size="12" text-anchor="start" textLength="81.50" lengthAdjust="spacingAndGlyphs">Informants' age</text>
<text x="441.00" y="877.50" font-size="14" text-anchor="start" textLength="9.50" lengthAdjust="spacingAndGlyphs">f)</text>
<ellipse cx="483.44" cy="643.20" rx="2.45" ry="2.2" fill="none" stroke="#4a4a4a" stroke-width="1.0"/>
<ellipse cx="493.50" cy="643.20" rx="2.45" ry="2.2" fill="none" stroke="#4a4a4a" stroke-width="1.0"/>
<ellipse cx="644.47" cy="643.20" rx="2.45" ry="2.2" fill="none" stroke="#4a4a4a" stroke-width="1.0"/>
<ellipse cx="674.67" cy="643.20" rx="2.45" ry="2.2" fill="none" stroke="#4a4a4a" stroke-width="1.0"/>
<ellipse cx="478.41" cy="649.04" rx="2.45" ry="2.2" fill="none" stroke="#4a4a4a" stroke-width="1.0"/>
<ellipse cx="528.73" cy="649.04" rx="2.45" ry="2.2" fill="none" stroke="#4a4a4a" stroke-width="1.0"/>
<ellipse cx="568.99" cy="672.38" rx="2.45" ry="2.2" fill="none" stroke="#4a4a4a" stroke-width="1.0"/>
<ellipse cx="579.05" cy="672.38" rx="2.45" ry="2.2" fill="none" stroke="#4a4a4a" stroke-width="1.0"/>
<ellipse cx="594.15" cy="672.38" rx="2.45" ry="2.2" fill="none" stroke="#4a4a4a" stroke-width="1.0"/>
<ellipse cx="443.18" cy="684.05" rx="2.45" ry="2.2" fill="none" stroke="#4a4a4a" stroke-width="1.0"/>
<ellipse cx="448.21" cy="684.05" rx="2.45" ry="2.2" fill="none" stroke="#4a4a4a" stroke-width="1.0"/>
<ellipse cx="453.25" cy="684.05" rx="2.45" ry="2.2" fill="none" stroke="#4a4a4a" stroke-width="1.0"/>
<ellipse cx="458.28" cy="684.05" rx="2.45" ry="2.2" fill="none" stroke="#4a4a4a" stroke-width="1.0"/>
<ellipse cx="463.31" cy="684.05" rx="2.45" ry="2.2" fill="none" stroke="#4a4a4a" stroke-width="1.0"/>
<ellipse cx="473.38" cy="684.05" rx="2.45" ry="2.2" fill="none" stroke="#4a4a4a" stroke-width="1.0"/>
<ellipse cx="478.41" cy="684.05" rx="2.45" ry="2.2" fill="none" stroke="#4a4a4a" stroke-width="1.0"/>
<ellipse cx="483.44" cy="684.05" rx="2.45" ry="2.2" fill="none" stroke="#4a4a4a" stroke-width="1.0"/>
<ellipse cx="488.47" cy="684.05" rx="2.45" ry="2.2" fill="none" stroke="#4a4a4a" stroke-width="1.0"/>
<ellipse cx="493.50" cy="684.05" rx="2.45" ry="2.2" fill="none" stroke="#4a4a4a" stroke-width="1.0"/>
<ellipse cx="503.57" cy="684.05" rx="2.45" ry="2.2" fill="none" stroke="#4a4a4a" stroke-width="1.0"/>
<ellipse cx="528.73" cy="684.05" rx="2.45" ry="2.2" fill="none" stroke="#4a4a4a" stroke-width="1.0"/>
<ellipse cx="538.80" cy="684.05" rx="2.45" ry="2.2" fill="none" stroke="#4a4a4a" stroke-width="1.0"/>
<ellipse cx="548.86" cy="684.05" rx="2.45" ry="2.2" fill="none" stroke="#4a4a4a" stroke-width="1.0"/>
<ellipse cx="563.96" cy="684.05" rx="2.45" ry="2.2" fill="none" stroke="#4a4a4a" stroke-width="1.0"/>
<ellipse cx="579.05" cy="684.05" rx="2.45" ry="2.2" fill="none" stroke="#4a4a4a" stroke-width="1.0"/>
<ellipse cx="584.09" cy="684.05" rx="2.45" ry="2.2" fill="none" stroke="#4a4a4a" stroke-width="1.0"/>
<ellipse cx="604.22" cy="684.05" rx="2.45" ry="2.2" fill="none" stroke="#4a4a4a" stroke-width="1.0"/>
<ellipse cx="629.38" cy="684.05" rx="2.45" ry="2.2" fill="none" stroke="#4a4a4a" stroke-width="1.0"/>
<ellipse cx="639.44" cy="684.05" rx="2.45" ry="2.2" fill="none" stroke="#4a4a4a" stroke-width="1.0"/>
<ellipse cx="644.47" cy="684.05" rx="2.45" ry="2.2" fill="none" stroke="#4a4a4a" stroke-width="1.0"/>
<ellipse cx="654.54" cy="684.05" rx="2.45" ry="2.2" fill="none" stroke="#4a4a4a" stroke-width="1.0"/>
<ellipse cx="679.70" cy="684.05" rx="2.45" ry="2.2" fill="none" stroke="#4a4a4a" stroke-width="1.0"/>
<ellipse cx="684.73" cy="684.05" rx="2.45" ry="2.2" fill="none" stroke="#4a4a4a" stroke-width="1.0"/>
<ellipse cx="478.41" cy="689.89" rx="2.45" ry="2.2" fill="none" stroke="#4a4a4a" stroke-width="1.0"/>
<ellipse cx="488.47" cy="689.89" rx="2.45" ry="2.2" fill="none" stroke="#4a4a4a" stroke-width="1.0"/>
<ellipse cx="513.63" cy="689.89" rx="2.45" ry="2.2" fill="none" stroke="#4a4a4a" stroke-width="1.0"/>
<ellipse cx="528.73" cy="689.89" rx="2.45" ry="2.2" fill="none" stroke="#4a4a4a" stroke-width="1.0"/>
<ellipse cx="533.76" cy="689.89" rx="2.45" ry="2.2" fill="none" stroke="#4a4a4a" stroke-width="1.0"/>
<ellipse cx="538.80" cy="689.89" rx="2.45" ry="2.2" fill="none" stroke="#4a4a4a" stroke-width="1.0"/>
<ellipse cx="543.83" cy="689.89" rx="2.45" ry="2.2" fill="none" stroke="#4a4a4a" stroke-width="1.0"/>
<ellipse cx="553.89" cy="689.89" rx="2.45" ry="2.2" fill="none" stroke="#4a4a4a" stroke-width="1.0"/>
<ellipse cx="563.96" cy="689.89" rx="2.45" ry="2.2" fill="none" stroke="#4a4a4a" stroke-width="1.0"/>
<ellipse cx="594.15" cy="689.89" rx="2.45" ry="2.2" fill="none" stroke="#4a4a4a" stroke-width="1.0"/>
<ellipse cx="609.25" cy="689.89" rx="2.45" ry="2.2" fill="none" stroke="#4a4a4a" stroke-width="1.0"/>
<ellipse cx="614.28" cy="689.89" rx="2.45" ry="2.2" fill="none" stroke="#4a4a4a" stroke-width="1.0"/>
<ellipse cx="619.31" cy="689.89" rx="2.45" ry="2.2" fill="none" stroke="#4a4a4a" stroke-width="1.0"/>
<ellipse cx="674.67" cy="689.89" rx="2.45" ry="2.2" fill="none" stroke="#4a4a4a" stroke-width="1.0"/>
<ellipse cx="760.22" cy="689.89" rx="2.45" ry="2.2" fill="none" stroke="#4a4a4a" stroke-width="1.0"/>
<ellipse cx="478.41" cy="695.72" rx="2.45" ry="2.2" fill="none" stroke="#4a4a4a" stroke-width="1.0"/>
<ellipse cx="513.63" cy="695.72" rx="2.45" ry="2.2" fill="none" stroke="#4a4a4a" stroke-width="1.0"/>
<ellipse cx="604.22" cy="695.72" rx="2.45" ry="2.2" fill="none" stroke="#4a4a4a" stroke-width="1.0"/>
<ellipse cx="629.38" cy="695.72" rx="2.45" ry="2.2" fill="none" stroke="#4a4a4a" stroke-width="1.0"/>
<ellipse cx="664.60" cy="695.72" rx="2.45" ry="2.2" fill="none" stroke="#4a4a4a" stroke-width="1.0"/>
<ellipse cx="699.83" cy="695.72" rx="2.45" ry="2.2" fill="none" stroke="#4a4a4a" stroke-width="1.0"/>
<ellipse cx="533.76" cy="701.56" rx="2.45" ry="2.2" fill="none" stroke="#4a4a4a" stroke-width="1.0"/>
<ellipse cx="614.28" cy="701.56" rx="2.45" ry="2.2" fill="none" stroke="#4a4a4a" stroke-width="1.0"/>
<ellipse cx="619.31" cy="701.56" rx="2.45" ry="2.2" fill="none" stroke="#4a4a4a" stroke-width="1.0"/>
<ellipse cx="679.70" cy="701.56" rx="2.45" ry="2.2" fill="none" stroke="#4a4a4a" stroke-width="1.0"/>
<ellipse cx="528.73" cy="707.39" rx="2.45" ry="2.2" fill="none" stroke="#4a4a4a" stroke-width="1.0"/>
<ellipse cx="553.89" cy="707.39" rx="2.45" ry="2.2" fill="none" stroke="#4a4a4a" stroke-width="1.0"/>
<ellipse cx="568.99" cy="707.39" rx="2.45" ry="2.2" fill="none" stroke="#4a4a4a" stroke-width="1.0"/>
<ellipse cx="594.15" cy="707.39" rx="2.45" ry="2.2" fill="none" stroke="#4a4a4a" stroke-width="1.0"/>
<ellipse cx="684.73" cy="707.39" rx="2.45" ry="2.2" fill="none" stroke="#4a4a4a" stroke-width="1.0"/>
<ellipse cx="463.31" cy="713.23" rx="2.45" ry="2.2" fill="none" stroke="#4a4a4a" stroke-width="1.0"/>
<ellipse cx="483.44" cy="719.07" rx="2.45" ry="2.2" fill="none" stroke="#4a4a4a" stroke-width="1.0"/>
<ellipse cx="579.05" cy="719.07" rx="2.45" ry="2.2" fill="none" stroke="#4a4a4a" stroke-width="1.0"/>
<ellipse cx="654.54" cy="742.41" rx="2.45" ry="2.2" fill="none" stroke="#4a4a4a" stroke-width="1.0"/>
<ellipse cx="478.41" cy="759.91" rx="2.45" ry="2.2" fill="none" stroke="#4a4a4a" stroke-width="1.0"/>
<ellipse cx="513.63" cy="771.59" rx="2.45" ry="2.2" fill="none" stroke="#4a4a4a" stroke-width="1.0"/>
<ellipse cx="594.15" cy="800.76" rx="2.45" ry="2.2" fill="none" stroke="#4a4a4a" stroke-width="1.0"/>
<ellipse cx="614.28" cy="818.27" rx="2.45" ry="2.2" fill="none" stroke="#4a4a4a" stroke-width="1.0"/>
<ellipse cx="508.60" cy="859.12" rx="2.45" ry="2.2" fill="none" stroke="#4a4a4a" stroke-width="1.0"/>
<ellipse cx="443.18" cy="888.30" rx="2.45" ry="2.2" fill="none" stroke="#4a4a4a" stroke-width="1.0"/>
<ellipse cx="513.63" cy="888.30" rx="2.45" ry="2.2" fill="none" stroke="#4a4a4a" stroke-width="1.0"/>
<ellipse cx="553.89" cy="888.30" rx="2.45" ry="2.2" fill="none" stroke="#4a4a4a" stroke-width="1.0"/>
<ellipse cx="604.22" cy="888.30" rx="2.45" ry="2.2" fill="none" stroke="#4a4a4a" stroke-width="1.0"/>
<ellipse cx="654.54" cy="888.30" rx="2.45" ry="2.2" fill="none" stroke="#4a4a4a" stroke-width="1.0"/>
<clipPath id="cf"><rect x="430.5" y="633.4" width="342.4" height="264.7"/></clipPath>
<g clip-path="url(#cf)">
<line x1="430.50" y1="706.10" x2="772.90" y2="706.10" stroke="#ff4a4a" stroke-width="1.3" />
<path d="M430.50,684.04 L435.99,684.77 L441.48,685.49 L446.98,686.20 L452.47,686.90 L457.96,687.58 L463.45,688.25 L468.94,688.91 L474.43,689.54 L479.93,690.16 L485.42,690.75 L490.91,691.31 L496.40,691.85 L501.89,692.35 L507.38,692.82 L512.88,693.25 L518.37,693.63 L523.86,693.97 L529.35,694.25 L534.84,694.47 L540.33,694.64 L545.83,694.75 L551.32,694.79 L556.81,694.76 L562.30,694.67 L567.79,694.52 L573.28,694.31 L578.77,694.04 L584.27,693.72 L589.76,693.35 L595.25,692.93 L600.74,692.47 L606.23,691.98 L611.73,691.45 L617.22,690.89 L622.71,690.30 L628.20,689.70 L633.69,689.07 L639.18,688.42 L644.67,687.75 L650.17,687.07 L655.66,686.37 L661.15,685.67 L666.64,684.95 L672.13,684.22 L677.62,683.48 L683.12,682.74 L688.61,681.99 L694.10,681.23 L699.59,680.46 L705.08,679.69 L710.58,678.91 L716.07,678.13 L721.56,677.35 L727.05,676.56 L732.54,675.77 L738.03,674.97 L743.52,674.17 L749.02,673.37 L754.51,672.57 L760.00,671.76" fill="none" stroke="#4040ff" stroke-width="1.5" stroke-dasharray="3 2.6"/>
<path d="M430.50,728.16 L435.99,727.43 L441.48,726.71 L446.98,726.00 L452.47,725.30 L457.96,724.62 L463.45,723.95 L468.94,723.29 L474.43,722.66 L479.93,722.04 L485.42,721.45 L490.91,720.89 L496.40,720.35 L501.89,719.85 L507.38,719.38 L512.88,718.95 L518.37,718.57 L523.86,718.23 L529.35,717.95 L534.84,717.73 L540.33,717.56 L545.83,717.45 L551.32,717.41 L556.81,717.44 L562.30,717.53 L567.79,717.68 L573.28,717.89 L578.77,718.16 L584.27,718.48 L589.76,718.85 L595.25,719.27 L600.74,719.73 L606.23,720.22 L611.73,720.75 L617.22,721.31 L622.71,721.90 L628.20,722.50 L633.69,723.13 L639.18,723.78 L644.67,724.45 L650.17,725.13 L655.66,725.83 L661.15,726.53 L666.64,727.25 L672.13,727.98 L677.62,728.72 L683.12,729.46 L688.61,730.21 L694.10,730.97 L699.59,731.74 L705.08,732.51 L710.58,733.29 L716.07,734.07 L721.56,734.85 L727.05,735.64 L732.54,736.43 L738.03,737.23 L743.52,738.03 L749.02,738.83 L754.51,739.63 L760.00,740.44" fill="none" stroke="#4040ff" stroke-width="1.5" stroke-dasharray="3 2.6"/>
</g>
</g>
<rect x="0" y="0" width="783" height="1.8" fill="#a6a6a6"/>
<rect x="0" y="0" width="1" height="960" fill="#a0a0a0"/>
<rect x="1" y="1.5" width="0.9" height="957.5" fill="#5a5a5a"/>
<rect x="781.9" y="1.5" width="1.1" height="957.5" fill="#4a4a4a"/>
<rect x="1" y="958" width="782" height="1" fill="#5a5a5a"/>
<rect x="0" y="959" width="783" height="1" fill="#c8c8c8"/>
</svg>
</body></html>
